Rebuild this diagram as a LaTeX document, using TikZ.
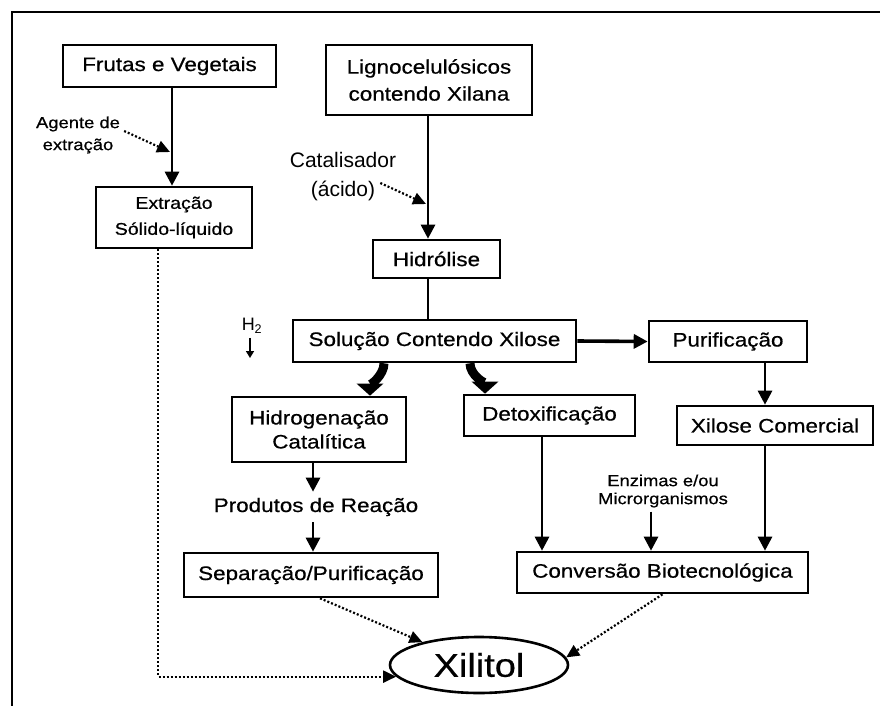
\documentclass[tikz,border=0pt]{standalone}
\usepackage{fontspec}
\setmainfont{Liberation Sans}
\newfontfamily\boxfont[FakeStretch=1.15,FakeBold=0.6]{Liberation Sans}
\usetikzlibrary{arrows.meta,calc,shapes.geometric}
\begin{document}
\begin{tikzpicture}[x=1pt,y=-1pt,
  box/.style={draw, line width=2.6pt, inner sep=0pt, align=center,
    font=\boxfont\fontsize{19.5}{27}\selectfont},
  lab/.style={inner sep=0pt, align=center},
  arr/.style={line width=2.8pt, -{Triangle[length=14pt,width=14pt]}},
  plain/.style={line width=2.8pt},
  dotarr/.style={line width=2.2pt, dash pattern=on 2pt off 2pt, -{Triangle[length=13pt,width=12pt]}},
  fat/.style={line width=9pt, -{Triangle[length=12pt,width=26pt]}}]
\useasboundingbox (0,0) rectangle (880,706);
% frame
\draw[line width=2.6pt] (12,706) -- (12,12) -- (880,12);
% boxes
\node[box, minimum width=213pt, minimum height=42pt] (fv) at (169.5,66) {Frutas e Vegetais};
\node[box, minimum width=206pt, minimum height=70pt] (lig) at (429,80) {Lignocelulósicos\\contendo Xilana};
\node[box, minimum width=156pt, minimum height=61pt, font=\boxfont\fontsize{17}{26}\selectfont] (ext) at (174,217.5) {Extração\\Sólido-líquido};
\node[box, minimum width=127pt, minimum height=38pt] (hid) at (436.5,259) {Hidrólise};
\node[box, minimum width=283pt, minimum height=42pt] (sol) at (434.5,341) {Solução Contendo Xilose};
\node[box, minimum width=158pt, minimum height=41pt] (pur) at (728,341.5) {Purificação};
\node[box, minimum width=196pt, minimum height=39pt] (xc) at (775,425.5) {Xilose Comercial};
\node[box, minimum width=174pt, minimum height=65pt, font=\boxfont\fontsize{19.5}{24}\selectfont] (hcat) at (319,429.5) {Hidrogenação\\Catalítica};
\node[box, minimum width=171pt, minimum height=41pt] (det) at (549.5,415.5) {Detoxificação};
\node[box, minimum width=254pt, minimum height=44pt] (sep) at (311,575) {Separação/Purificação};
\node[box, minimum width=291pt, minimum height=41pt] (conv) at (662.5,572.5) {Conversão Biotecnológica};
\node[draw, ellipse, line width=2.6pt, minimum width=178pt, minimum height=56pt, inner sep=0pt,
  font=\boxfont\fontsize{33}{36}\selectfont] (xil) at (479,665) {Xilitol};
% labels
\node[lab, font=\boxfont\fontsize{16}{22}\selectfont] (agente) at (78,135) {Agente de\\extração};
\node[lab, font=\fontsize{21}{29}\selectfont] (cat) at (343,177) {Catalisador\\(ácido)};
\node[lab, font=\fontsize{18}{20}\selectfont] (h2) at (252,326) {H\textsubscript{2}};
\node[lab, inner sep=6pt, font=\boxfont\fontsize{19.5}{24}\selectfont] (prod) at (316,507) {Produtos de Reação};
\node[lab, inner sep=4pt, font=\boxfont\fontsize{16}{18}\selectfont] (enz) at (663,491) {Enzimas e/ou\\Microrganismos};
\coordinate (h2tip) at (250,358);
\coordinate (agtip) at (170,152);
\coordinate (cattip) at (426,204);
% solid arrows
\draw[arr] (172,0 |- fv.south) -- (172,0 |- ext.north);
\draw[arr] (428,0 |- lig.south) -- (428,0 |- hid.north);
\draw[plain] (428,0 |- hid.south) -- (428,0 |- sol.north);
\draw[arr, line width=3.6pt] (sol.east) -- (pur.west);
\draw[arr] (765,0 |- pur.south) -- (765,0 |- xc.north);
\draw[arr] (765,0 |- xc.south) -- (765,0 |- conv.north);
\draw[arr] (542,0 |- det.south) -- (542,0 |- conv.north);
\draw[arr] (651,0 |- enz.south) -- (651,0 |- conv.north);
\draw[arr] (313,0 |- hcat.south) -- (313,0 |- prod.north);
\draw[arr] (313,0 |- prod.south) -- (313,0 |- sep.north);
\draw[line width=1.6pt, -{Triangle[length=7pt,width=8pt]}] (h2.south) ++(-2,4) -- (h2tip);
% fat curved arrows
\draw[fat] (sol.south -| 384,0) .. controls +(0,12) and +(0,-10) .. (hcat.north -| 370,0);
\draw[fat] (sol.south -| 470,0) .. controls +(0,12) and +(0,-10) .. (det.north -| 485,0);
% dotted arrows
\draw[dotarr] ($(agente.east)+(4,-4)$) -- (agtip);
\draw[dotarr] ($(cat.east)+(-16,6)$) -- (cattip);
\draw[dotarr] (158,0 |- ext.south) |- (xil.188);
\draw[dotarr] (sep.south -| 320,0) -- (xil.158);
\draw[dotarr] (conv.south) -- (xil.5);
\end{tikzpicture}
\end{document}
